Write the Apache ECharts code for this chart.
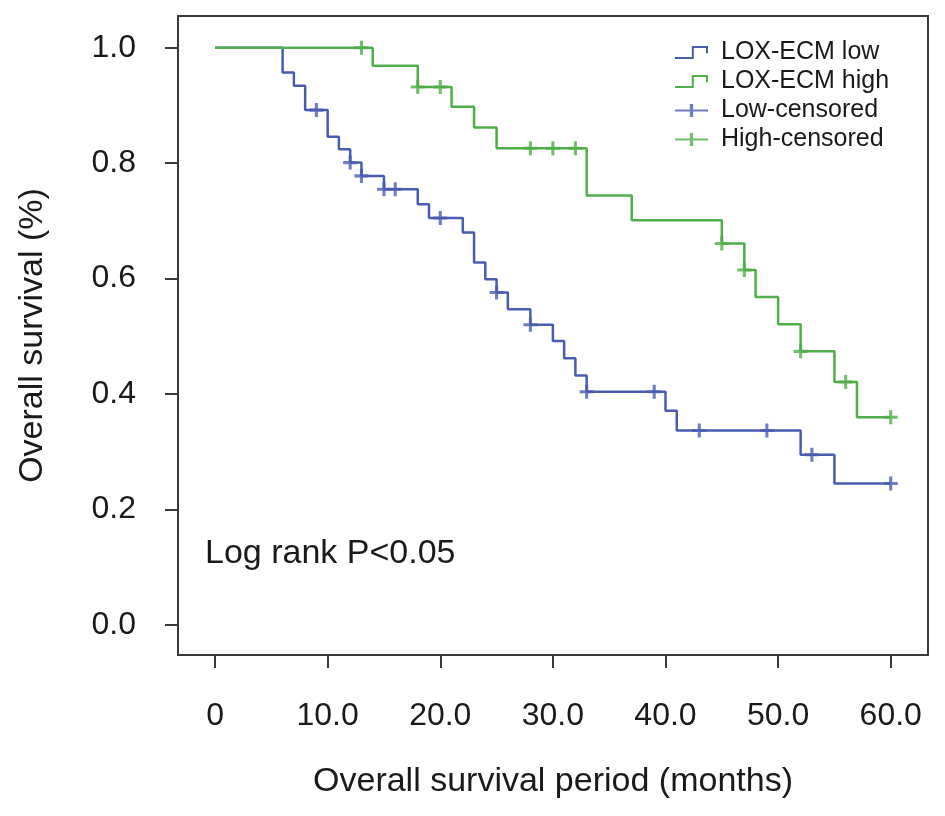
<!DOCTYPE html>
<html>
<head>
<meta charset="utf-8">
<script src="https://cdn.jsdelivr.net/npm/echarts@6/dist/echarts.min.js"></script>
<style>
html,body{margin:0;padding:0;background:#fff;}
#chart{width:945px;height:816px;}
</style>
</head>
<body>
<div id="chart"></div>
<script>
// Kaplan-Meier step data: [month, survival after event]
var lowSteps = [[0,1],[6,0.957],[7,0.934],[8,0.892],[10,0.846],[11,0.824],[12,0.801],[13,0.778],[15,0.755],[18,0.729],[19,0.705],[22,0.680],[23,0.628],[24,0.599],[25,0.576],[26,0.547],[28,0.520],[30,0.492],[31,0.462],[32,0.432],[33,0.404],[40,0.371],[41,0.337],[52,0.295],[55,0.245],[60,0.245]];
var highSteps = [[0,1],[14,0.969],[18,0.932],[21,0.898],[23,0.862],[25,0.826],[33,0.744],[37,0.701],[45,0.661],[47,0.615],[48,0.568],[50,0.521],[52,0.474],[55,0.421],[57,0.360],[60,0.360]];
var lowCensored = [[9,0.892],[12,0.801],[13,0.778],[15,0.755],[16,0.755],[20,0.705],[25,0.576],[28,0.520],[33,0.404],[39,0.404],[43,0.337],[49,0.337],[53,0.295],[60,0.245]];
var highCensored = [[13,1.0],[18,0.932],[20,0.932],[28,0.826],[30,0.826],[32,0.826],[45,0.661],[47,0.615],[52,0.474],[56,0.421],[60,0.360]];
var xTicks = [0,10,20,30,40,50,60];
var yTicks = [0,0.2,0.4,0.6,0.8,1.0];
var seriesNames = ['LOX-ECM low','LOX-ECM high','Low-censored','High-censored'];
var annotation = 'Log rank P<0.05';

var BLUE = '#4a5cb2';
var GREEN = '#4fae49';
var TXT = '#1a1a1a';
var FONT = 'Liberation Sans, Arial, sans-serif';
var plusPath = 'path://M-2.2,-10 L2.2,-10 L2.2,-2.2 L10,-2.2 L10,2.2 L2.2,2.2 L2.2,10 L-2.2,10 L-2.2,2.2 L-10,2.2 L-10,-2.2 L-2.2,-2.2 Z';
var stepIcon = 'path://M0,34 L51,34 L51,0 L100,0 L100,22 L94,22 L94,6 L57,6 L57,40 L0,40 Z';
var plusIcon = 'path://M0,17 L45,17 L45,0 L55,0 L55,17 L100,17 L100,23 L55,23 L55,40 L45,40 L45,23 L0,23 Z';

var chart = echarts.init(document.getElementById('chart'), null, {renderer:'canvas'});
chart.setOption({
  animation:false,
  backgroundColor:'#fff',
  textStyle:{fontFamily:FONT},
  grid:{left:178, right:17, top:16, bottom:161, show:true, borderColor:'#3a3a3a', borderWidth:2, backgroundColor:'transparent'},
  legend:{
    orient:'vertical', left:670, top:35, itemWidth:33, itemHeight:14, itemGap:4,
    textStyle:{fontSize:25, color:TXT, fontFamily:FONT, lineHeight:25, padding:[0,0,0,8]},
    data:[
      {name:seriesNames[0], icon:stepIcon},
      {name:seriesNames[1], icon:stepIcon},
      {name:seriesNames[2], icon:plusIcon},
      {name:seriesNames[3], icon:plusIcon}
    ]
  },
  xAxis:{
    type:'value', min:-3.29, max:63.31,
    name:'Overall survival period (months)', nameLocation:'middle', nameGap:110,
    nameTextStyle:{fontSize:34, color:TXT, fontFamily:FONT},
    axisLine:{show:false, onZero:false}, splitLine:{show:false},
    axisTick:{show:true, length:13, customValues:xTicks, lineStyle:{color:'#3a3a3a', width:2}},
    axisLabel:{customValues:xTicks, fontSize:32, color:TXT, margin:45, fontFamily:FONT,
      formatter:function(v){return v===0?'0':v.toFixed(1);}}
  },
  yAxis:{
    type:'value', min:-0.052, max:1.055,
    name:'Overall survival (%)', nameLocation:'middle', nameGap:128,
    nameTextStyle:{fontSize:34, color:TXT, fontFamily:FONT},
    axisLine:{show:false, onZero:false}, splitLine:{show:false},
    axisTick:{show:true, length:13, customValues:yTicks, lineStyle:{color:'#3a3a3a', width:2}},
    axisLabel:{customValues:yTicks, fontSize:32, color:TXT, margin:42, fontFamily:FONT,
      formatter:function(v){return v.toFixed(1);}}
  },
  graphic:[{type:'text', left:205, top:537, style:{text:annotation, font:'34px Liberation Sans, Arial, sans-serif', fill:TXT}}],
  series:[
    {name:seriesNames[0], type:'line', step:'end', data:lowSteps, showSymbol:false, symbol:'none', color:BLUE, lineStyle:{color:BLUE, width:2.5}, z:2},
    {name:seriesNames[1], type:'line', step:'end', data:highSteps, showSymbol:false, symbol:'none', color:GREEN, lineStyle:{color:GREEN, width:2.5}, z:2},
    {name:seriesNames[2], type:'scatter', data:lowCensored, symbol:plusPath, symbolSize:14, color:BLUE, itemStyle:{color:BLUE}, z:3},
    {name:seriesNames[3], type:'scatter', data:highCensored, symbol:plusPath, symbolSize:14, color:GREEN, itemStyle:{color:GREEN}, z:3}
  ]
});
</script>
</body>
</html>
